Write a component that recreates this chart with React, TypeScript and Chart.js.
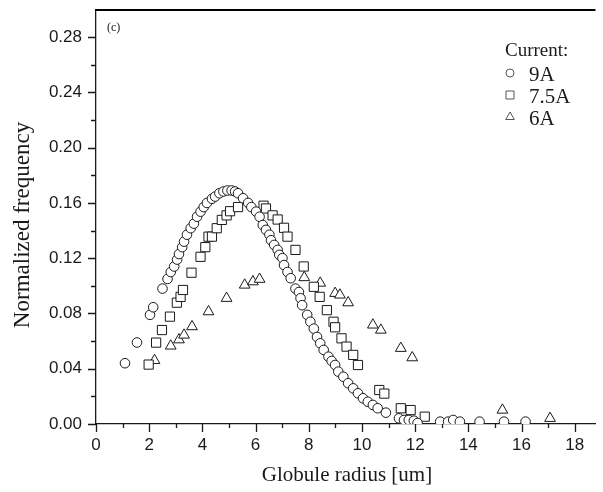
import React, { useEffect, useRef } from 'react';
import { Chart, registerables } from 'chart.js';

Chart.register(...registerables);

// ---------- data ----------
const xTicks = [0, 2, 4, 6, 8, 10, 12, 14, 16, 18];
const xMinorTicks = [1, 3, 5, 7, 9, 11, 13, 15, 17];
const yTicks = [0, 0.04, 0.08, 0.12, 0.16, 0.2, 0.24, 0.28];
const yMinorTicks = [0.02, 0.06, 0.1, 0.14, 0.18, 0.22, 0.26];

const xTitle = 'Globule radius [um]';
const yTitle = 'Normalized frequency';
const panelLabel = '(c)';
const legendTitle = 'Current:';
const seriesLabels = ['9A', '7.5A', '6A'];

const current9A: [number, number][] = [
  [1.09, 0.044], [1.54, 0.059], [2.03, 0.079], [2.15, 0.0845], [2.5, 0.098],
  [2.69, 0.105], [2.81, 0.11], [2.94, 0.114], [3.05, 0.119], [3.12, 0.123],
  [3.24, 0.128], [3.31, 0.132], [3.42, 0.137], [3.56, 0.1417], [3.68, 0.145],
  [3.8, 0.15], [3.93, 0.1537], [4.05, 0.157], [4.17, 0.16], [4.36, 0.163],
  [4.48, 0.1646], [4.64, 0.167], [4.79, 0.1683], [4.94, 0.169], [5.1, 0.169],
  [5.23, 0.1683], [5.34, 0.167], [5.53, 0.1634], [5.72, 0.16], [5.84, 0.157],
  [6.02, 0.1537], [6.15, 0.15], [6.27, 0.144], [6.39, 0.1405], [6.52, 0.137],
  [6.58, 0.133], [6.7, 0.1296], [6.83, 0.126], [6.89, 0.1224], [7.01, 0.12],
  [7.07, 0.115], [7.2, 0.11], [7.32, 0.1055], [7.5, 0.098], [7.63, 0.0955],
  [7.69, 0.091], [7.75, 0.086], [7.94, 0.079], [8.06, 0.074], [8.19, 0.069],
  [8.31, 0.063], [8.43, 0.0584], [8.56, 0.0536], [8.74, 0.0487], [8.86, 0.0456],
  [8.99, 0.0427], [9.11, 0.0379], [9.3, 0.0342], [9.48, 0.0295], [9.67, 0.0258],
  [9.85, 0.0222], [10.04, 0.0186], [10.22, 0.0161], [10.41, 0.0138], [10.59, 0.0114],
  [10.9, 0.0082], [11.39, 0.0041], [11.58, 0.0029], [11.76, 0.0029], [11.95, 0.0024],
  [12.09, 0.0007], [12.94, 0.0017], [13.24, 0.0017], [13.43, 0.0029], [13.68, 0.0017],
  [14.42, 0.0017], [15.34, 0.0017], [16.15, 0.0017],
];

const current7_5A: [number, number][] = [
  [1.98, 0.043], [2.26, 0.0589], [2.48, 0.068], [2.78, 0.0777], [3.04, 0.0878],
  [3.18, 0.092], [3.27, 0.097], [3.59, 0.1095], [3.93, 0.121], [4.11, 0.128],
  [4.23, 0.1356], [4.36, 0.1356], [4.54, 0.1417], [4.73, 0.1477], [4.91, 0.151],
  [5.04, 0.154], [5.34, 0.157], [6.3, 0.158], [6.39, 0.156], [6.64, 0.151],
  [6.83, 0.148], [7.07, 0.142], [7.2, 0.1356], [7.5, 0.126], [7.81, 0.114],
  [8.19, 0.0993], [8.41, 0.092], [8.68, 0.0824], [8.93, 0.074], [8.99, 0.07],
  [9.23, 0.062], [9.42, 0.056], [9.67, 0.05], [9.85, 0.0427], [10.65, 0.0246],
  [10.84, 0.022], [11.46, 0.0114], [11.83, 0.0101], [12.36, 0.0053],
];

const current6A: [number, number][] = [
  [2.2, 0.046], [2.81, 0.0565], [3.12, 0.061], [3.31, 0.0644], [3.61, 0.0705],
  [4.23, 0.0813], [4.91, 0.091], [5.59, 0.1006], [5.9, 0.103], [6.15, 0.1048],
  [7.83, 0.106], [8.43, 0.102], [8.99, 0.0946], [9.17, 0.0934], [9.48, 0.0878],
  [10.41, 0.0717], [10.71, 0.068], [11.46, 0.0548], [11.89, 0.048],
  [15.28, 0.0101], [17.07, 0.0041],
];

// ---------- styling ----------
const INK = '#1a1a1a';
const SANS = '"Liberation Sans", Arial, sans-serif';
const SERIF = '"Liberation Serif", "Times New Roman", serif';

const toPts = (arr: [number, number][]) => arr.map(([x, y]) => ({ x, y }));

function drawMarker(ctx: CanvasRenderingContext2D, style: string, cx: number, cy: number) {
  ctx.beginPath();
  if (style === 'circle') {
    ctx.arc(cx, cy, 4, 0, Math.PI * 2);
  } else if (style === 'rect') {
    ctx.rect(cx - 4, cy - 4, 8, 8);
  } else {
    const r = 5;
    ctx.moveTo(cx, cy - r);
    ctx.lineTo(cx + r * Math.sin((2 * Math.PI) / 3), cy - r * Math.cos((2 * Math.PI) / 3));
    ctx.lineTo(cx + r * Math.sin((4 * Math.PI) / 3), cy - r * Math.cos((4 * Math.PI) / 3));
    ctx.closePath();
  }
  ctx.stroke();
}

const decorPlugin = {
  id: 'decor',
  afterDraw(chart: any) {
    const { ctx, chartArea, scales } = chart;
    const xs = scales.x;
    const ys = scales.y;
    ctx.save();
    ctx.strokeStyle = '#000';
    ctx.lineWidth = 2;
    // top frame line
    const t = Math.round(chartArea.top);
    ctx.beginPath();
    ctx.moveTo(chartArea.left - 1, t);
    ctx.lineTo(chartArea.right, t);
    ctx.stroke();
    // ticks
    ctx.strokeStyle = INK;
    ctx.lineWidth = 1.3;
    const b = chartArea.bottom;
    const l = chartArea.left;
    ctx.beginPath();
    xTicks.forEach((v) => {
      const p = Math.round(xs.getPixelForValue(v)) + 0.5;
      ctx.moveTo(p, b);
      ctx.lineTo(p, b + 8);
    });
    xMinorTicks.forEach((v) => {
      const p = Math.round(xs.getPixelForValue(v)) + 0.5;
      ctx.moveTo(p, b);
      ctx.lineTo(p, b + 4);
    });
    yTicks.forEach((v) => {
      const p = Math.round(ys.getPixelForValue(v)) + 0.5;
      ctx.moveTo(l, p);
      ctx.lineTo(l - 8, p);
    });
    yMinorTicks.forEach((v) => {
      const p = Math.round(ys.getPixelForValue(v)) + 0.5;
      ctx.moveTo(l, p);
      ctx.lineTo(l - 5, p);
    });
    ctx.stroke();

    ctx.fillStyle = INK;
    // axis titles
    ctx.font = `21px ${SERIF}`;
    ctx.textAlign = 'center';
    ctx.textBaseline = 'alphabetic';
    ctx.fillText(xTitle, 347, 481);
    ctx.save();
    ctx.translate(23, 225);
    ctx.rotate(-Math.PI / 2);
    ctx.textBaseline = 'middle';
    ctx.font = `23px ${SERIF}`;
    ctx.fillText(yTitle, 0, 0);
    ctx.restore();

    // panel label
    ctx.textAlign = 'left';
    ctx.textBaseline = 'alphabetic';
    ctx.font = `12px ${SERIF}`;
    ctx.fillText(panelLabel, 107, 31);

    // legend
    ctx.font = `19px ${SERIF}`;
    ctx.fillText(legendTitle, 505, 56);
    const styles = ['circle', 'rect', 'triangle'];
    const baselines = [81, 103, 125];
    ctx.font = `21px ${SERIF}`;
    ctx.strokeStyle = '#444';
    ctx.lineWidth = 0.9;
    seriesLabels.forEach((lab, i) => {
      drawMarker(ctx, styles[i], 510, baselines[i] - 8);
      ctx.fillText(lab, 529, baselines[i]);
    });
    ctx.restore();
  },
};

export default function App() {
  const ref = useRef<HTMLCanvasElement | null>(null);

  useEffect(() => {
    if (!ref.current) return;
    const common = {
      showLine: false,
      borderColor: INK,
      backgroundColor: '#ffffff',
      borderWidth: 1,
      clip: 0,
    };
    const chart = new Chart(ref.current, {
      type: 'scatter',
      data: {
        datasets: [
          { ...common, label: seriesLabels[0], data: toPts(current9A), pointStyle: 'circle', pointRadius: 4.8 },
          { ...common, label: seriesLabels[1], data: toPts(current7_5A), pointStyle: 'rect', pointRadius: 6.5 },
          { ...common, label: seriesLabels[2], data: toPts(current6A), pointStyle: 'triangle', pointRadius: 6.2 },
        ],
      },
      options: {
        animation: false,
        responsive: false,
        events: [],
        layout: { padding: { top: 9.5, left: 0, right: 0, bottom: 0 } },
        plugins: {
          legend: { display: false },
          tooltip: { enabled: false },
        },
        scales: {
          x: {
            type: 'linear',
            position: 'bottom',
            min: 0,
            max: 18.78,
            grid: { display: false, drawTicks: false },
            border: { display: true, color: INK, width: 1.3 },
            ticks: {
              color: INK,
              font: { family: SANS, size: 17 },
              padding: 11,
              maxRotation: 0,
              callback: (v: any) => String(v),
            },
            afterBuildTicks: (scale: any) => {
              scale.ticks = xTicks.map((value) => ({ value }));
            },
            afterFit: (scale: any) => {
              scale.height = 68;
              scale.paddingLeft = 0;
              scale.paddingRight = 0;
            },
          },
          y: {
            type: 'linear',
            min: 0,
            max: 0.3,
            grid: { display: false, drawTicks: false },
            border: { display: true, color: INK, width: 1.3 },
            ticks: {
              color: INK,
              font: { family: SANS, size: 17 },
              padding: 14,
              callback: (v: any) => Number(v).toFixed(2),
            },
            afterBuildTicks: (scale: any) => {
              scale.ticks = yTicks.map((value) => ({ value }));
            },
            afterFit: (scale: any) => {
              scale.width = 96;
              scale.paddingTop = 0;
              scale.paddingBottom = 0;
            },
          },
        },
      },
      plugins: [decorPlugin],
    } as any);
    return () => chart.destroy();
  }, []);

  return (
    <div style={{ position: 'absolute', left: 0, top: 0, width: 603, height: 492, background: '#fff' }}>
      <canvas ref={ref} width={603} height={492} style={{ display: 'block' }} />
    </div>
  );
}
